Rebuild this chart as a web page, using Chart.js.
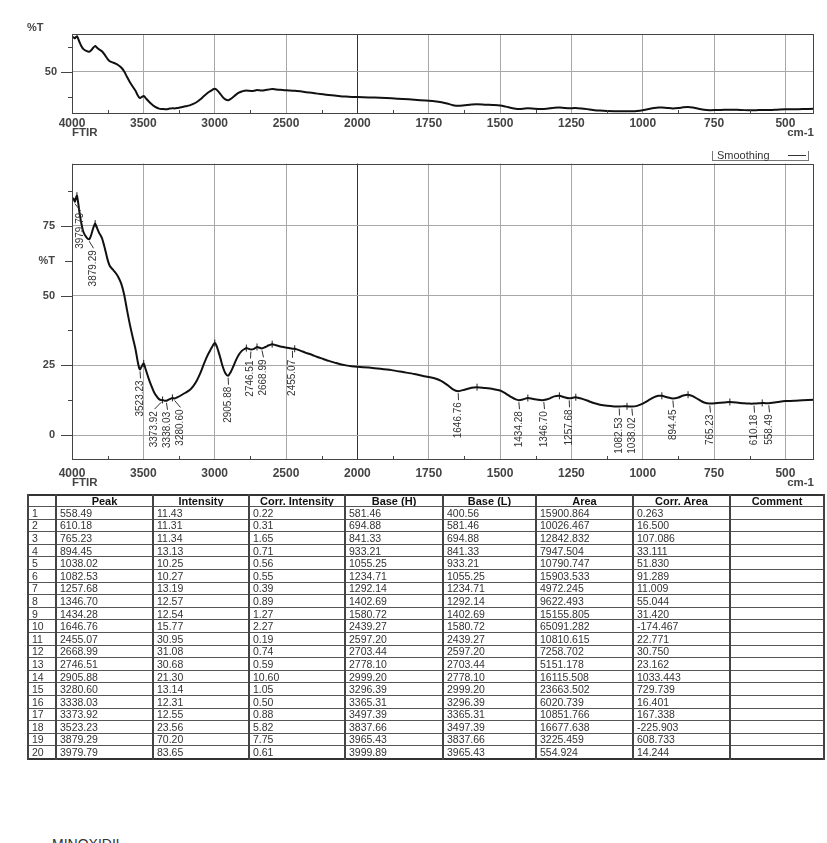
<!DOCTYPE html>
<html><head><meta charset="utf-8">
<script src="https://cdn.jsdelivr.net/npm/chart.js@4.4.1/dist/chart.umd.min.js"></script>
<style>
html,body{margin:0;padding:0;background:#fff;}
body{width:827px;height:843px;overflow:hidden;position:relative;font-family:"Liberation Sans",Arial,sans-serif;}
#w1{position:absolute;left:0;top:0;width:827px;height:140px;}
#w2{position:absolute;left:0;top:140px;width:827px;height:355px;}
#smooth{position:absolute;left:712px;top:151px;width:97px;height:10px;box-sizing:border-box;border:1px solid #777;border-top:none;font-size:11px;line-height:9px;color:#333;background:#fff;}
#smooth span{position:absolute;left:4px;top:0;}
#smooth i{position:absolute;left:75px;top:4px;width:18px;height:0;border-top:1px solid #333;}
#tbl{position:absolute;left:27px;top:494px;border-collapse:collapse;table-layout:fixed;width:796px;border:2px solid #333;}
#tbl th,#tbl td{border-top:1px solid #555;border-bottom:1px solid #555;border-left:2px solid #444;border-right:2px solid #444;padding:0 0 0 3px;white-space:nowrap;overflow:hidden;}
#tbl th{font:bold 11px "Liberation Sans",Arial,sans-serif;color:#111;text-align:center;height:10px;line-height:10px;padding:0;}
#tbl td{font:10.5px "Liberation Sans Narrow","Arial Narrow","Liberation Sans",Arial,sans-serif;color:#333;height:11.6px;line-height:10px;}
#title{position:absolute;left:52px;top:837px;font:14px "Liberation Sans",Arial,sans-serif;color:#333;line-height:14px;}
</style></head>
<body>
<div id="w1"><canvas id="c1" width="827" height="140"></canvas></div>
<div id="w2"><canvas id="c2" width="827" height="355"></canvas></div>
<div id="smooth"><span>Smoothing</span><i></i></div>
<table id="tbl"></table>
<div id="title">MINOXIDIL</div>
<script>
// ---------------- DATA ----------------
const spectrumWn = [3999.89,3990,3979.79,3972,3965.43,3958,3948,3935,3920,3900,3879.29,3865,3850,3837.66,3825,3810,3790,3770,3750,3735,3715,3695,3675,3655,3635,3615,3595,3575,3555,3540,3530,3523.23,3510,3497.39,3485,3465,3445,3425,3405,3390,3373.92,3365.31,3350,3338.03,3320,3296.39,3280.60,3260,3235,3205,3175,3150,3125,3100,3075,3050,3025,3010,2999.20,2988,2975,2960,2945,2925,2905.88,2890,2870,2850,2830,2810,2790,2778.10,2760,2746.51,2725,2703.44,2685,2668.99,2645,2620,2597.20,2570,2540,2510,2480,2455.07,2439.27,2400,2360,2320,2280,2240,2200,2160,2120,2080,2040,2000,1960,1920,1880,1840,1800,1760,1730,1705,1685,1665,1646.76,1625,1600,1580.72,1555,1525,1500,1480,1460,1445,1434.28,1420,1402.69,1380,1360,1346.70,1325,1310,1292.14,1275,1257.68,1245,1234.71,1215,1195,1175,1150,1125,1100,1082.53,1065,1055.25,1038.02,1020,1000,980,960,945,933.21,915,894.45,875,858,841.33,825,805,785,765.23,740,715,694.88,670,645,625,610.18,595,581.46,570,558.49,540,520,500,470,440,400.56];
const spectrumT = [84.6,84.8,83.65,85.0,85.8,83.8,80.0,76.0,72.8,71.0,70.2,71.8,74.4,75.8,74.3,72.5,70.6,67.0,62.8,60.6,59.4,58.2,56.6,54.3,50.5,45.0,39.8,35.2,30.8,26.5,24.2,23.56,24.8,25.7,23.8,20.6,17.8,15.4,13.8,12.9,12.55,12.6,12.35,12.31,12.8,13.35,13.14,13.6,14.3,15.2,16.2,17.6,19.6,22.3,25.6,28.6,31.0,32.4,33.0,32.2,30.2,27.6,24.8,22.2,21.30,22.4,24.6,27.0,28.9,30.2,30.9,31.2,30.9,30.68,30.9,31.6,31.3,31.08,31.6,32.2,32.6,32.2,31.8,31.5,31.2,30.95,30.95,30.3,29.5,28.8,28.0,27.3,26.6,26.0,25.4,25.0,24.7,24.5,24.2,23.8,23.3,22.6,21.9,21.0,20.4,19.4,18.0,16.4,15.77,16.3,17.0,17.2,16.9,16.5,16.0,14.9,13.6,12.8,12.54,12.8,13.3,12.9,12.6,12.57,13.2,13.9,14.1,13.6,13.19,13.4,13.6,13.1,12.4,11.6,10.9,10.5,10.3,10.27,10.35,10.35,10.25,10.5,11.3,12.5,13.6,14.1,14.1,13.6,13.13,13.5,14.2,14.5,14.0,12.8,11.7,11.34,11.5,11.7,11.9,11.7,11.4,11.3,11.31,11.4,11.55,11.45,11.43,11.7,12.0,12.2,12.3,12.5,12.7];

const peakWn        = [558.49,610.18,765.23,894.45,1038.02,1082.53,1257.68,1346.70,1434.28,1646.76,2455.07,2668.99,2746.51,2905.88,3280.60,3338.03,3373.92,3523.23,3879.29,3979.79];
const peakIntensity = [11.43,11.31,11.34,13.13,10.25,10.27,13.19,12.57,12.54,15.77,30.95,31.08,30.68,21.30,13.14,12.31,12.55,23.56,70.20,83.65];
const corrIntensity = [0.22,0.31,1.65,0.71,0.56,0.55,0.39,0.89,1.27,2.27,0.19,0.74,0.59,10.60,1.05,0.50,0.88,5.82,7.75,0.61];
const baseH         = [581.46,694.88,841.33,933.21,1055.25,1234.71,1292.14,1402.69,1580.72,2439.27,2597.20,2703.44,2778.10,2999.20,3296.39,3365.31,3497.39,3837.66,3965.43,3999.89];
const baseL         = [400.56,581.46,694.88,841.33,933.21,1055.25,1234.71,1292.14,1402.69,1580.72,2439.27,2597.20,2703.44,2778.10,2999.20,3296.39,3365.31,3497.39,3837.66,3965.43];
const area          = [15900.864,10026.467,12842.832,7947.504,10790.747,15903.533,4972.245,9622.493,15155.805,65091.282,10810.615,7258.702,5151.178,16115.508,23663.502,6020.739,10851.766,16677.638,3225.459,554.924];
const corrArea      = [0.263,16.500,107.086,33.111,51.830,91.289,11.009,55.044,31.420,-174.467,22.771,30.750,23.162,1033.443,729.739,16.401,167.338,-225.903,608.733,14.244];

const xMajorTicks = [4000,3500,3000,2500,2000,1750,1500,1250,1000,750,500];
const xMinorTicks = [3750,3250,2750,2250,1875,1625,1375,1125,875,625];
const yMainMajor = [0,25,50,75];
const yMainMinor = [12.5,37.5,62.5,87.5];
const yTopMajor = [50];
const yTopMinor = [25,75];
const tableHeaders = ["","Peak","Intensity","Corr. Intensity","Base (H)","Base (L)","Area","Corr. Area","Comment"];

// ---------------- SCALE ----------------
const X_MAX = 4000, X_MIN = 400, X_BREAK = 2000, X_HIGH_FACTOR = 2;
class FtirScale extends Chart.LinearScale {
  static id = 'ftir';
  static defaults = { ticks: { callback: (v) => String(v) } };
  buildTicks() { return xMajorTicks.map(v => ({ value: v })); }
  _u(v) { return v >= X_BREAK ? (X_MAX - v) / X_HIGH_FACTOR : (X_MAX - X_BREAK) / X_HIGH_FACTOR + (X_BREAK - v); }
  getPixelForValue(v) { return this.left + this.width * this._u(v) / this._u(X_MIN); }
  getValueForPixel(p) {
    const u = (p - this.left) / this.width * this._u(X_MIN);
    const h = (X_MAX - X_BREAK) / X_HIGH_FACTOR;
    return u <= h ? X_MAX - u * X_HIGH_FACTOR : X_BREAK - (u - h);
  }
}
Chart.register(FtirScale);

const FONT = '"Liberation Sans", Arial, sans-serif';
const spectrumPts = spectrumWn.map((w, i) => ({ x: w, y: spectrumT[i] }));
const baseWn = Array.from(new Set(baseH.concat(baseL))).sort((a, b) => b - a);
const basePts = baseWn.map(w => ({ x: w, y: spectrumT[spectrumWn.indexOf(w)] }));

const framePlugin = {
  id: 'frame',
  afterDraw(chart, args, o) {
    const { ctx, chartArea: a, scales: { x, y } } = chart;
    ctx.save();
    ctx.strokeStyle = '#444'; ctx.lineWidth = 1;
    const ln = (x1, y1, x2, y2) => { ctx.beginPath(); ctx.moveTo(x1, y1); ctx.lineTo(x2, y2); ctx.stroke(); };
    ctx.strokeRect(Math.round(a.left) + 0.5, Math.round(a.top) + 0.5, Math.round(a.right - a.left) - 1, Math.round(a.bottom - a.top) - 1);
    o.yMajor.forEach(v => { const p = Math.round(y.getPixelForValue(v)) + 0.5; ln(a.left - 11, p, a.left, p); });
    o.yMinor.forEach(v => { const p = Math.round(y.getPixelForValue(v)) + 0.5; ln(a.left - (v === o.titleTick ? 7 : 4), p, a.left, p); });
    xMinorTicks.forEach(v => { const p = Math.round(x.getPixelForValue(v)) + 0.5; ln(p, a.bottom, p, a.bottom - 4); });
    ctx.fillStyle = '#444';
    ctx.font = 'bold 11.5px ' + FONT;
    ctx.textBaseline = 'middle';
    ctx.textAlign = 'left'; ctx.fillText('FTIR', a.left, o.footY);
    ctx.textAlign = 'right'; ctx.fillText('cm-1', a.right, o.footY);
    if (o.corner) { ctx.textAlign = 'left'; ctx.font = 'bold 11px ' + FONT; ctx.fillText('%T', o.corner[0], o.corner[1]); }
    ctx.restore();
  }
};

const peakPlugin = {
  id: 'peaks',
  afterDatasetsDraw(chart) {
    const { ctx, chartArea: a, scales: { x, y } } = chart;
    const items = peakWn.map((w, i) => ({ w, px: x.getPixelForValue(w), py: y.getPixelForValue(peakIntensity[i]) }))
      .sort((p, q) => p.px - q.px);
    const gap = 13, minX = a.left + 8;
    let groups = items.map(it => ({ items: [it] }));
    const place = g => {
      const mean = g.items.reduce((s, it) => s + it.px, 0) / g.items.length;
      g.start = Math.max(minX, mean - (g.items.length - 1) * gap / 2);
    };
    groups.forEach(place);
    let merged = true;
    while (merged) {
      merged = false;
      for (let i = 0; i < groups.length - 1; i++) {
        const g = groups[i], h = groups[i + 1];
        if (g.start + g.items.length * gap > h.start + 0.01) {
          g.items = g.items.concat(h.items); place(g); groups.splice(i + 1, 1); merged = true; break;
        }
      }
    }
    ctx.save();
    ctx.strokeStyle = '#333'; ctx.fillStyle = '#333'; ctx.lineWidth = 1;
    ctx.font = '10px ' + FONT;
    groups.forEach(g => g.items.forEach((it, k) => {
      const lx = Math.round(g.start + k * gap) + 0.5;
      ctx.beginPath(); ctx.moveTo(it.px, it.py + 2); ctx.lineTo(lx, it.py + 9); ctx.stroke();
      ctx.save();
      ctx.translate(lx, it.py + 11);
      ctx.rotate(-Math.PI / 2);
      ctx.textAlign = 'right'; ctx.textBaseline = 'middle';
      ctx.fillText(it.w.toFixed(2), 0, 0);
      ctx.restore();
    }));
    ctx.restore();
  }
};

function gridColor(c) { return c.tick && c.tick.value === X_BREAK ? '#333' : '#a8a8a8'; }

function makeChart(id, cfg) {
  return new Chart(document.getElementById(id), {
    type: 'line',
    data: { datasets: cfg.datasets },
    options: {
      responsive: false, animation: false, devicePixelRatio: 1,
      layout: { padding: { left: 0, right: 13, top: cfg.padTop, bottom: 0 } },
      plugins: { legend: { display: false }, tooltip: { enabled: false }, frame: cfg.frame },
      scales: {
        x: {
          type: 'ftir', min: X_MIN, max: X_MAX,
          afterFit: s => { s.height = cfg.xHeight; },
          grid: { color: gridColor, drawTicks: false, lineWidth: 1 },
          border: { display: false },
          ticks: { autoSkip: false, maxRotation: 0, padding: cfg.xPad, color: '#444', font: { family: FONT, size: 12, weight: 'bold' }, callback: v => String(v) }
        },
        y: {
          type: 'linear', min: cfg.yMin, max: cfg.yMax,
          afterFit: s => { s.width = 72; },
          afterBuildTicks: s => { s.ticks = cfg.yMajor.concat(cfg.yMinor).sort((p, q) => p - q).map(v => ({ value: v })); },
          grid: { color: c => (c.tick && cfg.yMajor.includes(c.tick.value)) ? '#a8a8a8' : 'rgba(0,0,0,0)', drawTicks: false },
          border: { display: false },
          ticks: { padding: cfg.yPad, color: '#444', font: { family: FONT, size: 11, weight: 'bold' },
            callback: v => cfg.yMajor.includes(v) ? String(v) : (v === cfg.titleTick ? '%T' : '') }
        }
      }
    },
    plugins: [framePlugin].concat(cfg.extra || [])
  });
}

const lineStyle = { borderColor: '#111', borderWidth: 2, pointRadius: 0, tension: 0.25, fill: false };

makeChart('c1', {
  datasets: [Object.assign({ data: spectrumPts }, lineStyle)],
  padTop: 34, xHeight: 26, xPad: 2, yPad: 15, yMin: 7.5, yMax: 88,
  yMajor: yTopMajor, yMinor: yTopMinor, titleTick: null,
  frame: { yMajor: yTopMajor, yMinor: yTopMinor, footY: 133, corner: [27, 28] }
});

makeChart('c2', {
  datasets: [
    Object.assign({ data: spectrumPts }, lineStyle),
    { data: basePts, showLine: false, pointStyle: 'line', rotation: 90, pointRadius: 3.5, borderColor: '#222', borderWidth: 1 }
  ],
  padTop: 10, xHeight: 35, xPad: 6, yPad: 17, yMin: -8.9, yMax: 97.3,
  yMajor: yMainMajor, yMinor: yMainMinor, titleTick: 62.5,
  frame: { yMajor: yMainMajor, yMinor: yMainMinor, footY: 343, titleTick: 62.5 },
  extra: [peakPlugin]
});

// ---------------- TABLE ----------------
const colW = [28, 97, 96, 96, 98, 93, 97, 97, 94];
const tbl = document.getElementById('tbl');
let html = '<colgroup>' + colW.map(w => '<col style="width:' + w + 'px">').join('') + '</colgroup>';
html += '<tr>' + tableHeaders.map(h => '<th>' + h + '</th>').join('') + '</tr>';
peakWn.forEach((p, i) => {
  const cells = [String(i + 1), p.toFixed(2), peakIntensity[i].toFixed(2), corrIntensity[i].toFixed(2), baseH[i].toFixed(2), baseL[i].toFixed(2), area[i].toFixed(3), corrArea[i].toFixed(3), ''];
  html += '<tr>' + cells.map(c => '<td>' + c + '</td>').join('') + '</tr>';
});
tbl.innerHTML = html;
</script>
</body></html>
